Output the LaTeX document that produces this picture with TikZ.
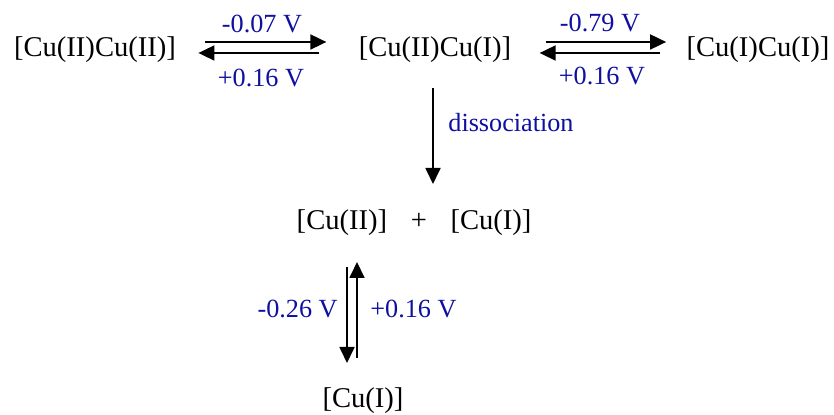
\documentclass[tikz,border=0pt]{standalone}
\usepackage{fontspec}
\setmainfont{Liberation Serif}
\usetikzlibrary{arrows.meta}
\definecolor{potblue}{RGB}{15,15,160}

\begin{document}
\begin{tikzpicture}[x=0.5pt,y=-0.5pt,
    species/.style={inner sep=0pt,anchor=base,font=\fontsize{14.3}{17}\selectfont},
    potential/.style={inner sep=0pt,anchor=base,text=potblue,font=\fontsize{13.1}{16}\selectfont},
    redox/.style={line width=0.9pt,-{Triangle[length=8pt,width=7.5pt]}}]
    \useasboundingbox (0,0) rectangle (834,415);
    % species
    \node[species] (dimerII) at (95,57) {[Cu(II)Cu(II)]};
    \node[species] (mixed) at (435,57) {[Cu(II)Cu(I)]};
    \node[species] (dimerI) at (758,57) {[Cu(I)Cu(I)]};
    \node[species] (monoII) at (342,230) {[Cu(II)]};
    \node[species] (plus) at (419,230) {+};
    \node[species] (monoI) at (491,230) {[Cu(I)]};
    \node[species] (endI) at (363,408) {[Cu(I)]};
    % potentials
    \node[potential] (e1red) at (262,33) {-0.07 V};
    \node[potential] (e1ox) at (261,87) {+0.16 V};
    \node[potential] (e2red) at (600,32) {-0.79 V};
    \node[potential] (e2ox) at (602,85) {+0.16 V};
    \node[potential,anchor=base west] (diss) at (448,132) {dissociation};
    \node[potential,anchor=base east] (e3red) at (338,318) {-0.26 V};
    \node[potential,anchor=base west] (e3ox) at (370,318) {+0.16 V};
    % arrows
    \draw[redox] ([shift={(29,-15)}]dimerII.base east) -- ([shift={(-32,-15)}]mixed.base west);
    \draw[redox] ([shift={(-39,-4)}]mixed.base west) -- ([shift={(22,-4)}]dimerII.base east);
    \draw[redox] ([shift={(34,-15)}]mixed.base east) -- ([shift={(-20,-15)}]dimerI.base west);
    \draw[redox] ([shift={(-26,-4)}]dimerI.base west) -- ([shift={(28,-4)}]mixed.base east);
    \draw[redox] ([shift={(-2,31)}]mixed.base) -- ([shift={(14,-46)}]plus.base);
    \draw[redox] ([shift={(5,37)}]monoII.base) -- ([shift={(-16,-45)}]endI.base);
    \draw[redox] ([shift={(-6,-50)}]endI.base) -- ([shift={(15,32)}]monoII.base);
\end{tikzpicture}
\end{document}
